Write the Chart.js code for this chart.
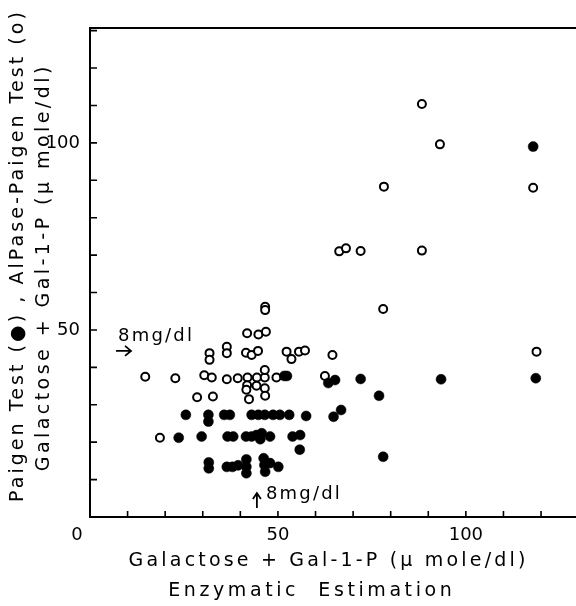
<!DOCTYPE html>
<html><head><meta charset="utf-8">
<script src="https://cdn.jsdelivr.net/npm/chart.js@4"></script>
<style>html,body{margin:0;padding:0;background:#fff}canvas{display:block}</style>
</head><body>
<canvas id="c" width="576" height="606"></canvas>
<script>
// ---- data ----
const openX = [46.6,46.6, 41.8,44.8,46.8, 31.8,31.8,36.4,36.4,41.5,43.0,44.7,52.3,53.6,55.6,57.2,64.5,
  14.7,22.7,30.4,32.4,36.4,39.3,41.9,44.4,46.5,46.5,49.6,62.5, 41.8,41.6,44.3,46.5,
  28.5,32.7,42.3,46.6, 18.6, 88.3,93.1,78.2,117.9,66.3,68.1,72.0,88.3,78.0,118.8];
const openY = [56.2,55.3, 49.1,48.8,49.5, 43.8,42.0,45.5,43.8,43.9,43.3,44.4,44.2,42.2,44.2,44.5,43.3,
  37.5,37.1,37.9,37.3,36.8,37.1,37.3,37.3,37.3,39.3,37.3,37.7, 35.2,34.0,35.1,34.4,
  32.0,32.2,31.5,32.4, 21.2, 110.4,99.6,88.3,88.0,71.0,71.8,71.1,71.2,55.6,44.2];
const filledX = [25.5,31.5,31.5,35.7,37.2,43.0,44.8,46.5,48.7,50.5,53.0,57.5,64.8,66.8,
  23.6,29.7,36.6,38.1,41.5,43.0,44.3,45.7,45.3,47.9,53.9,55.9,55.8,
  31.6,31.6,36.4,37.9,39.4,41.6,41.6,41.6,46.2,46.4,46.6,47.9,50.1,
  51.7,52.4,63.4,65.2,72.0,93.4,118.6,76.9,78.0,117.9];
const filledY = [27.3,27.3,25.5,27.3,27.3,27.3,27.3,27.3,27.3,27.3,27.3,27.0,26.8,28.6,
  21.2,21.5,21.5,21.5,21.5,21.5,21.9,22.4,20.8,21.5,21.5,21.9,18.0,
  14.6,13.0,13.4,13.4,13.8,15.4,13.4,11.7,15.7,13.9,12.1,14.4,13.4,
  37.7,37.7,35.8,36.6,36.9,36.8,37.1,32.4,16.1,99.0];
const xTicks = [0,10,20,30,40,50,60,70,80,90,100,110,120];
const yTicks = [0,10,20,30,40,50,60,70,80,90,100,110,120,130];
const xLabeled = [50,100];
const yLabeled = [50,100];
const xMax = 129.3, yMax = 130.7;
const cutoff = 44.4; // 8 mg/dl
const cutoffLabel = '8mg/dl';
const xTitle1 = 'Galactose + Gal-1-P (\u00b5 mole/dl)';
const xTitle2 = 'Enzymatic  Estimation';
const yTitleOuter = 'Paigen Test (\u25cf) , AlPase-Paigen Test (o)';
const yTitleInner = 'Galactose + Gal-1-P (\u00b5 mole/dl)';

const toPts = (xs, ys) => xs.map((x, i) => ({x, y: ys[i]}));
const FONT = '"DejaVu Sans", sans-serif';

function spaced(ctx, text, cx, cy, target) {
  ctx.save();
  ctx.textAlign = 'left';
  ctx.textBaseline = 'middle';
  const n = [...text].length;
  if ('letterSpacing' in ctx) {
    ctx.letterSpacing = '0px';
    const w = ctx.measureText(text).width;
    const ls = (target - w) / n;
    ctx.letterSpacing = ls.toFixed(2) + 'px';
    ctx.fillText(text, cx - target / 2 + ls / 2, cy);
  } else {
    const w = ctx.measureText(text).width;
    const ls = (target - w) / (n - 1);
    let x = cx - target / 2;
    for (const ch of text) { ctx.fillText(ch, x, cy); x += ctx.measureText(ch).width + ls; }
  }
  ctx.restore();
}

const decor = {
  id: 'decor',
  afterDraw(chart) {
    const {ctx, chartArea: a, scales: {x, y}} = chart;
    ctx.save();
    ctx.strokeStyle = '#000'; ctx.fillStyle = '#000';
    // top frame line and full-width bottom axis line
    ctx.lineWidth = 2;
    ctx.beginPath();
    ctx.moveTo(a.left - 1, a.top); ctx.lineTo(chart.width, a.top);
    ctx.moveTo(a.left - 1, a.bottom); ctx.lineTo(chart.width, a.bottom);
    ctx.stroke();
    // inward ticks
    ctx.lineWidth = 1.6;
    ctx.beginPath();
    yTicks.forEach(v => { if (v === 0) return; const p = y.getPixelForValue(v); ctx.moveTo(a.left, p); ctx.lineTo(a.left + 7, p); });
    xTicks.forEach(v => { if (v === 0) return; const p = x.getPixelForValue(v); ctx.moveTo(p, a.bottom); ctx.lineTo(p, a.bottom - 6); });
    ctx.stroke();
    // shared origin label
    ctx.font = '18px ' + FONT;
    ctx.textAlign = 'center'; ctx.textBaseline = 'middle';
    ctx.fillText('0', x.getPixelForValue(0) - 13, 535);
    // axis titles
    ctx.font = '19px ' + FONT;
    spaced(ctx, xTitle1, 327, 561, 400);
    spaced(ctx, xTitle2, 310, 591, 287);
    ctx.save(); ctx.translate(18, 257); ctx.rotate(-Math.PI / 2);
    spaced(ctx, yTitleOuter, 0, 0, 493); ctx.restore();
    ctx.save(); ctx.translate(44, 269); ctx.rotate(-Math.PI / 2);
    spaced(ctx, yTitleInner, 0, 0, 408); ctx.restore();
    // 8 mg/dl markers
    ctx.font = '18px ' + FONT;
    const yc = y.getPixelForValue(cutoff);
    spaced(ctx, cutoffLabel, 155, yc - 15, 76);
    ctx.lineWidth = 1.8;
    ctx.beginPath();
    ctx.moveTo(116, yc); ctx.lineTo(131, yc);
    ctx.moveTo(125, yc - 5); ctx.lineTo(131, yc); ctx.lineTo(125, yc + 5);
    const xc = x.getPixelForValue(cutoff);
    ctx.moveTo(xc, a.bottom - 9); ctx.lineTo(xc, a.bottom - 24);
    ctx.moveTo(xc - 4, a.bottom - 18); ctx.lineTo(xc, a.bottom - 24); ctx.lineTo(xc + 4, a.bottom - 18);
    ctx.stroke();
    spaced(ctx, cutoffLabel, xc + 46, a.bottom - 23, 76);
    ctx.restore();
  }
};

new Chart(document.getElementById('c'), {
  type: 'scatter',
  data: {
    datasets: [
      { label: 'Paigen Test', data: toPts(filledX, filledY), pointStyle: 'circle',
        pointRadius: 5, pointBackgroundColor: '#000', pointBorderColor: '#000', pointBorderWidth: 0.5 },
      { label: 'AlPase-Paigen Test', data: toPts(openX, openY), pointStyle: 'circle',
        pointRadius: 4, pointBackgroundColor: '#fff', pointBorderColor: '#000', pointBorderWidth: 2 }
    ]
  },
  options: {
    responsive: false, animation: false, devicePixelRatio: 1,
    layout: { autoPadding: false, padding: { top: 28, right: 0, left: 0, bottom: 0 } },
    plugins: { legend: { display: false }, tooltip: { enabled: false } },
    scales: {
      x: {
        type: 'linear', min: 0, max: xMax,
        afterBuildTicks: s => { s.ticks = xTicks.map(v => ({value: v})); },
        afterFit: s => { s.height = 89; s.paddingRight = 0; s.paddingLeft = 0; },
        grid: { display: false, drawTicks: false },
        border: { display: true, color: '#000', width: 2 },
        ticks: { autoSkip: false, maxRotation: 0, padding: 8, color: '#000',
          font: { family: FONT, size: 18 },
          callback: v => xLabeled.includes(v) ? String(v) : '' }
      },
      y: {
        type: 'linear', min: 0, max: yMax,
        afterBuildTicks: s => { s.ticks = yTicks.map(v => ({value: v})); },
        afterFit: s => { s.width = 90; s.paddingTop = 0; s.paddingBottom = 0; },
        grid: { display: false, drawTicks: false },
        border: { display: true, color: '#000', width: 2 },
        ticks: { autoSkip: false, padding: 10, color: '#000',
          font: { family: FONT, size: 18 },
          callback: v => yLabeled.includes(v) ? String(v) : '' }
      }
    }
  },
  plugins: [decor]
});
</script>
</body></html>
